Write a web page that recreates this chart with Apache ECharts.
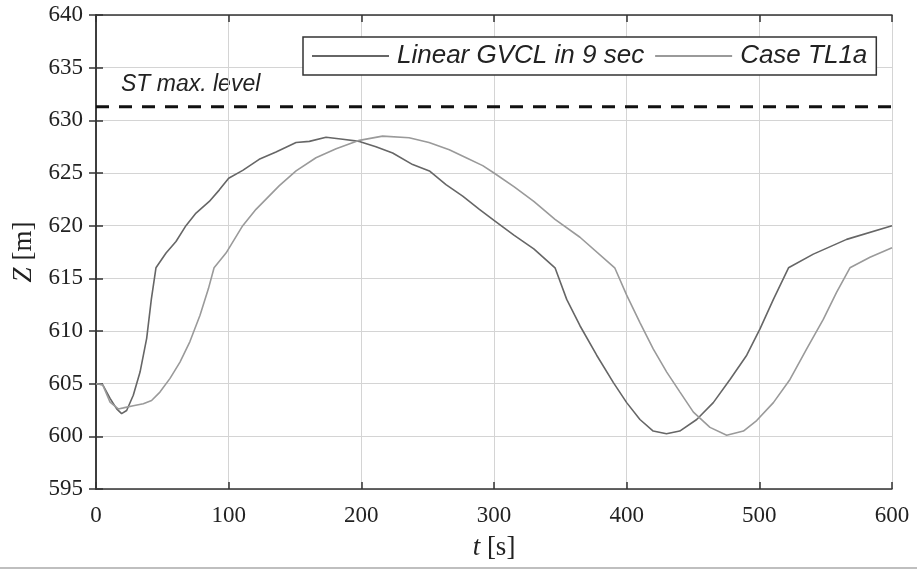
<!DOCTYPE html>
<html>
<head>
<meta charset="utf-8">
<script src="https://cdn.jsdelivr.net/npm/echarts@6/dist/echarts.min.js"></script>
<style>
  html, body { margin: 0; padding: 0; background: #fff; }
  #chart { width: 917px; height: 571px; }
</style>
</head>
<body>
<div id="chart"></div>
<script>
// series names
var seriesNames = ['Linear GVCL in 9 sec', 'Case TL1a'];

// Linear GVCL in 9 sec (dark curve)
var tGvcl = [0, 5, 10.6, 15.6, 19.3, 23.1, 28.1, 33.2, 38.2, 41.7, 45.2, 52.8, 60.3, 67.8, 75.4, 85.4, 93, 100,
  110.6, 123, 135.7, 150.8, 160.8, 173.4, 186, 198.5, 211, 223.6, 238.7, 251.3, 263.8, 276.4, 289, 300, 315,
  330, 346, 354.8, 364.8, 377.4, 390, 400, 410, 420, 430, 440, 452.8, 465.3, 477.9, 490.5, 500.5, 510.6, 522,
  540.7, 565.8, 600];
var zGvcl = [605, 604.9, 603.6, 602.6, 602.15, 602.45, 603.9, 606.1, 609.3, 613, 616, 617.4, 618.5, 620, 621.2,
  622.3, 623.4, 624.5, 625.25, 626.3, 627, 627.9, 628.0, 628.4, 628.2, 628.0, 627.5, 626.9, 625.8, 625.2, 623.9,
  622.8, 621.55, 620.5, 619.1, 617.8, 616, 613, 610.5, 607.7, 605.1, 603.2, 601.6, 600.5, 600.25, 600.5, 601.6,
  603.2, 605.4, 607.7, 610.2, 613, 616, 617.3, 618.7, 620];

// Case TL1a (light curve)
var tTl1a = [0, 5, 10.6, 16.8, 20.6, 28.1, 35.7, 41.9, 48.2, 55.8, 63.3, 70.8, 78.4, 84.7, 89, 98, 110.6, 120.6,
  138.2, 150.8, 165.8, 181, 198.5, 216, 236, 251, 266.3, 279, 291.5, 300, 315, 330, 346, 364.8, 391, 400, 410,
  420, 430.2, 440.2, 450.3, 462.8, 475.4, 488, 498, 510.6, 523.1, 535.7, 548.2, 558.3, 568.3, 583.4, 600];
var zTl1a = [605, 604.9, 603.25, 602.6, 602.7, 602.9, 603.1, 603.4, 604.2, 605.5, 607.05, 609, 611.5, 614, 616,
  617.4, 620, 621.55, 623.8, 625.2, 626.45, 627.3, 628.1, 628.5, 628.35, 627.9, 627.2, 626.45, 625.7, 625.0,
  623.7, 622.3, 620.6, 618.9, 616, 613.4, 610.8, 608.3, 606.1, 604.2, 602.3, 600.85, 600.1, 600.5, 601.5, 603.2,
  605.4, 608.3, 611.1, 613.7, 616, 617, 617.9];

// ST max. level
var stMaxLevel = 631.3;
var stMaxLabel = 'ST max. level';

// axes
var xMin = 0, xMax = 600, xStep = 100;
var yMin = 595, yMax = 640, yStep = 5;

function zip(a, b) {
  var out = [];
  for (var i = 0; i < a.length; i++) out.push([a[i], b[i]]);
  return out;
}

var chart = echarts.init(document.getElementById('chart'));

var serifFont = '"Liberation Serif", "DejaVu Serif", serif';
var sansFont = '"Liberation Sans", Arial, sans-serif';

var gridLine = { show: true, lineStyle: { color: '#d4d4d4', width: 1 } };
var frameLine = { show: true, lineStyle: { color: '#333', width: 1.5 } };
var tickIn = { show: true, inside: true, length: 7, lineStyle: { color: '#333', width: 1.5 } };
var nameStyle = {
  fontFamily: serifFont, fontSize: 27, color: '#222',
  rich: { i: { fontFamily: serifFont, fontStyle: 'italic', fontSize: 27, color: '#222' } }
};

var option = {
  animation: false,
  backgroundColor: '#fff',
  grid: { left: 96, right: 25, top: 15, bottom: 82, containLabel: false },
  legend: {
    data: seriesNames,
    left: 303,
    top: 37,
    orient: 'horizontal',
    icon: 'rect',
    itemWidth: 77,
    itemHeight: 2,
    itemGap: 11,
    padding: [6, 9, 6, 9],
    borderColor: '#333',
    borderWidth: 1.5,
    backgroundColor: '#fff',
    textStyle: { fontFamily: sansFont, fontStyle: 'italic', fontSize: 26, color: '#222', padding: [0, 0, 0, 3] }
  },
  xAxis: [{
    type: 'value', min: xMin, max: xMax, interval: xStep,
    position: 'bottom',
    name: '{i|t} [s]',
    nameLocation: 'middle',
    nameGap: 45,
    nameTextStyle: nameStyle,
    axisLine: frameLine,
    axisTick: tickIn,
    splitLine: gridLine,
    axisLabel: { margin: 15, fontFamily: serifFont, fontSize: 23, color: '#222' }
  }, {
    type: 'value', min: xMin, max: xMax, interval: xStep,
    position: 'top',
    axisLine: frameLine,
    axisTick: tickIn,
    splitLine: { show: false },
    axisLabel: { show: false }
  }],
  yAxis: [{
    type: 'value', min: yMin, max: yMax, interval: yStep,
    position: 'left',
    name: '{i|Z} [m]',
    nameLocation: 'middle',
    nameGap: 52,
    nameTextStyle: nameStyle,
    axisLine: frameLine,
    axisTick: tickIn,
    splitLine: gridLine,
    axisLabel: { margin: 13, fontFamily: serifFont, fontSize: 23, color: '#222' }
  }, {
    type: 'value', min: yMin, max: yMax, interval: yStep,
    position: 'right',
    axisLine: frameLine,
    axisTick: tickIn,
    splitLine: { show: false },
    axisLabel: { show: false }
  }],
  series: [{
    name: seriesNames[0],
    type: 'line',
    data: zip(tGvcl, zGvcl),
    symbol: 'none',
    lineStyle: { color: '#666', width: 1.6 },
    itemStyle: { color: '#666' },
    z: 3
  }, {
    name: seriesNames[1],
    type: 'line',
    data: zip(tTl1a, zTl1a),
    symbol: 'none',
    lineStyle: { color: '#9a9a9a', width: 1.6 },
    itemStyle: { color: '#9a9a9a' },
    z: 3
  }, {
    name: stMaxLabel,
    type: 'line',
    data: [[xMin, stMaxLevel], [xMax, stMaxLevel]],
    symbol: 'none',
    lineStyle: { color: '#111', width: 3, type: [13, 10] },
    z: 2
  }],
  graphic: [{
    type: 'text',
    left: 121,
    top: 73,
    style: { text: stMaxLabel, font: 'italic 23px ' + sansFont, fill: '#222' }
  }, {
    type: 'line',
    shape: { x1: 0, y1: 568, x2: 917, y2: 568 },
    style: { stroke: '#aaa', lineWidth: 1.5 }
  }]
};

chart.setOption(option);
window.addEventListener('resize', function () {
  chart.resize();
});
</script>
</body>
</html>
